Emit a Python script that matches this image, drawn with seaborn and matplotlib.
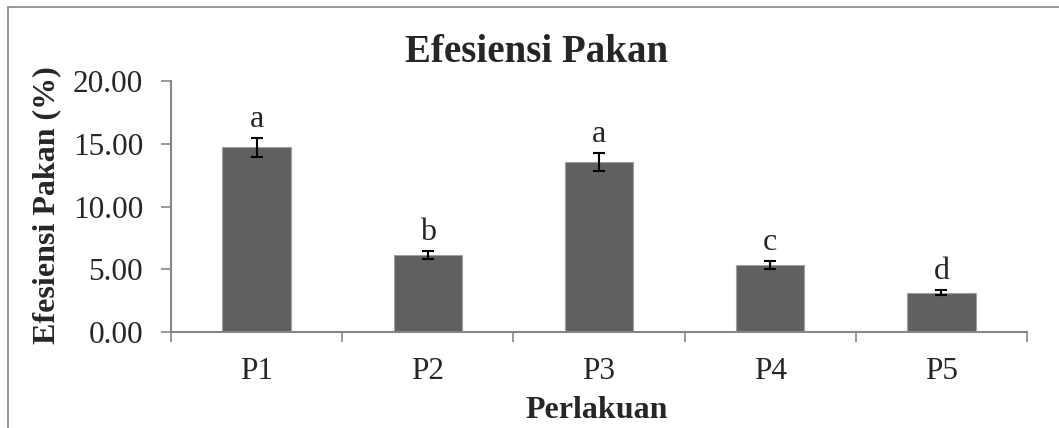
import numpy as np
import pandas as pd
import matplotlib
matplotlib.use("Agg")
import matplotlib.pyplot as plt
import seaborn as sns
from matplotlib.patches import Rectangle
from matplotlib.ticker import FormatStrFormatter, FixedLocator

# data
perlakuan = ["P1", "P2", "P3", "P4", "P5"]
efesiensi = [14.72, 6.13, 13.57, 5.34, 3.13]
galat = [0.75, 0.33, 0.71, 0.32, 0.20]
notasi = ["a", "b", "a", "c", "d"]

df = pd.DataFrame({"Perlakuan": perlakuan, "Efesiensi": efesiensi})

sns.set_style("white")
plt.rcParams["font.family"] = ["Liberation Serif", "DejaVu Serif"]

grey = "#868686"
fig = plt.figure(figsize=(10.59, 4.28), dpi=100)
ax = fig.add_axes([171/1059, 96/428, 856/1059, 251/428])

sns.barplot(data=df, x="Perlakuan", y="Efesiensi", color="#606060",
            width=0.4, edgecolor="#a0a0a0", linewidth=0.8, saturation=1, ax=ax)
ax.errorbar(x=np.arange(len(perlakuan)), y=efesiensi, yerr=galat, fmt="none",
            ecolor="black", elinewidth=1.5, capsize=4.5, capthick=1.5)

for i, (v, e, t) in enumerate(zip(efesiensi, galat, notasi)):
    ax.annotate(t, xy=(i, v + e), xytext=(0, 8), textcoords="offset points",
                ha="center", va="baseline", fontsize=23)

ax.set_xlim(-0.5, 4.5)
ax.set_ylim(0, 20)
ax.set_yticks([0, 5, 10, 15, 20])
ax.yaxis.set_major_formatter(FormatStrFormatter("%.2f"))
ax.xaxis.set_minor_locator(FixedLocator([-0.5, 0.5, 1.5, 2.5, 3.5, 4.5]))
ax.tick_params(axis="x", which="major", length=0, pad=18, labelsize=22.5)
ax.tick_params(axis="x", which="minor", length=7, width=1.2, color=grey, direction="out", bottom=True)
ax.tick_params(axis="y", length=7, width=1.2, color=grey, direction="out", left=True, pad=13, labelsize=22.5)
ax.set_xlabel("")
ax.set_ylabel("")

for s in ["top", "right"]:
    ax.spines[s].set_visible(False)
for s in ["left", "bottom"]:
    ax.spines[s].set_color(grey)
    ax.spines[s].set_linewidth(1.5)

fig.text(537/1059, 1 - 52/428, "Efesiensi Pakan", ha="center", va="center",
         fontsize=28, fontweight="bold")
fig.text(597/1059, 1 - 411/428, "Perlakuan", ha="center", va="center",
         fontsize=23, fontweight="bold")
fig.text(47/1059, 1 - 205/428, "Efesiensi Pakan (%)", ha="center", va="center",
         rotation=90, fontsize=23, fontweight="bold")

# frame around the chart
fig.patches.append(Rectangle((8/1059, -0.05), 1.1, 1 - 7/428 + 0.05,
                             transform=fig.transFigure, fill=False,
                             edgecolor=grey, linewidth=1.2))

fig.savefig("out.png", dpi=100)
